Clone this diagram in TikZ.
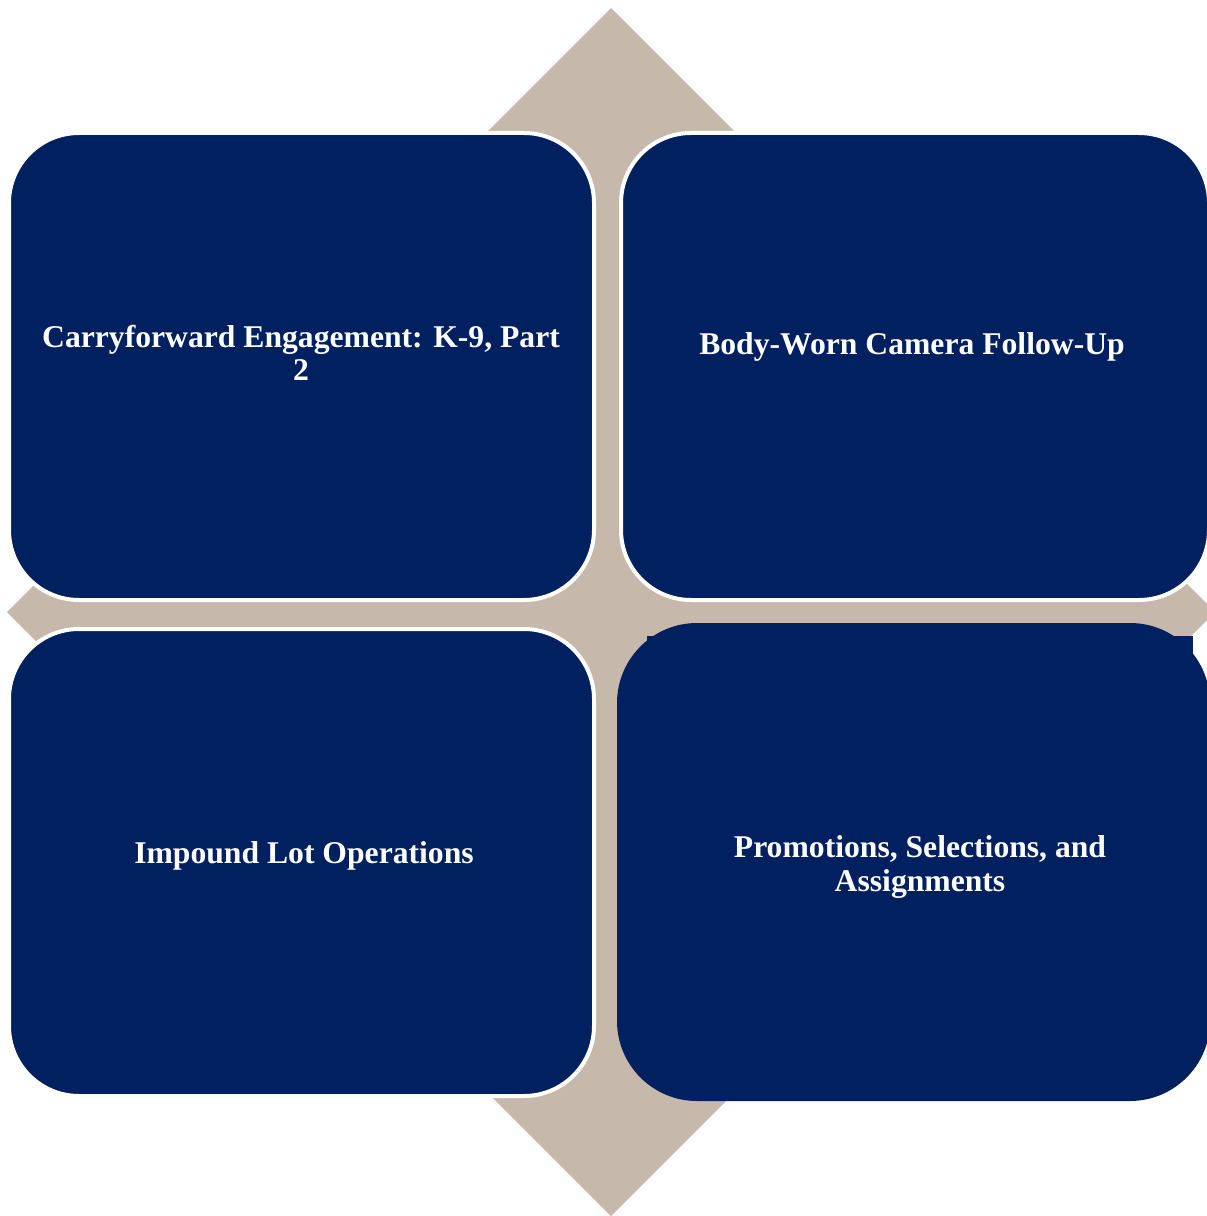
\documentclass[tikz,border=0pt]{standalone}
\usepackage{fontspec}
\setmainfont{Liberation Serif}
\usepackage{xcolor}

\definecolor{navy}{HTML}{002060}
\definecolor{sand}{HTML}{C6B8AB}

\tikzset{
  tile/.style={fill=navy, draw=white, line width=0.04cm, rounded corners=0.7cm},
  caption/.style={text=white, font=\fontsize{9}{9.4}\selectfont\bfseries, align=center}
}

\begin{document}
\begin{tikzpicture}[x=0.01cm, y=-0.01cm]

    \useasboundingbox (0,0) rectangle (1207,1216);
    \clip (0,0) rectangle (1207,1216);

    % Diamond behind the tiles
    \fill[sand] (611,8) -- (1215,612) -- (611,1216) -- (7,612) -- cycle;

    % Top left
    \draw[tile] (9,133) rectangle (594,600);
    \node[caption] (k9) at (301,353) {Carryforward Engagement: K-9, Part\\2};

    % Top right
    \draw[tile] (621,133) rectangle (1209,600);
    \node[caption] (bwc) at (912,347) {Body-Worn Camera Follow-Up};

    % Bottom left
    \draw[tile] (9,629) rectangle (594,1096);
    \node[caption] (lot) at (304,856) {Impound Lot Operations};

    % Bottom right (no outline)
    \fill[navy] (647,636) rectangle (1193,1000);
    \fill[navy, rounded corners=0.8cm] (617,623) rectangle (1210,1101);
    \node[caption] (promo) at (920,867) {Promotions, Selections, and\\Assignments};

\end{tikzpicture}
\end{document}
